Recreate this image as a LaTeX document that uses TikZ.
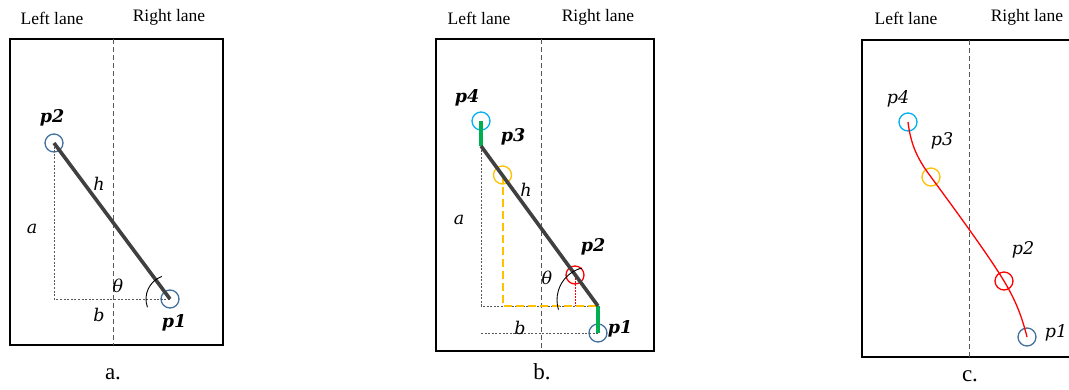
\documentclass[tikz,border=0pt]{standalone}
\usepackage{fontspec}
\setmainfont{Liberation Serif}
\newfontfamily\lblfont{DejaVu Serif}
\usetikzlibrary{calc}
\definecolor{cblue}{HTML}{41719C}
\definecolor{ccyan}{HTML}{00B0F0}
\definecolor{corange}{HTML}{FFC000}
\definecolor{cred}{HTML}{FF0000}
\definecolor{cgreen}{HTML}{00B050}
\definecolor{cdark}{HTML}{404040}
\begin{document}
\begin{tikzpicture}[x=1pt,y=-1pt,
  frame/.style={draw=black,line width=1.4pt},
  lanediv/.style={draw=black!65,line width=1pt,dash pattern=on 5pt off 3pt},
  guide/.style={draw=black!65,line width=0.9pt,dash pattern=on 2pt off 1.6pt},
  bar/.style={draw=cdark,line width=3.6pt},
  pt/.style={circle,draw,line width=1.3pt,minimum size=18pt,inner sep=0pt},
  lane/.style={font=\fontsize{17.5}{20}\selectfont,inner sep=0pt},
  plab/.style={font=\lblfont\fontsize{17.5}{20}\selectfont\bfseries\itshape,inner sep=0pt},
  plabi/.style={font=\lblfont\fontsize{17.5}{20}\selectfont\itshape,inner sep=0pt},
  mlab/.style={font=\lblfont\fontsize{17.5}{20}\selectfont\itshape,inner sep=0pt},
  captext/.style={font=\fontsize{23}{26}\selectfont,inner sep=0pt},
  greenbar/.style={draw=cgreen,line width=4pt},
  orangedash/.style={draw=corange,line width=2pt,dash pattern=on 8pt off 4pt},
  reddot/.style={draw=cred,line width=1pt,dash pattern=on 1.5pt off 1.5pt},
  angarc/.style={draw=black,line width=0.9pt}]
\useasboundingbox (0,0) rectangle (1069,389);
\fill[white] (0,0) rectangle (1069,389);

% ================= Panel a =================
\node[lane] (aL) at (52,18) {Left lane};
\node[lane] (aR) at (169,17) {Right lane};
\draw[frame] (10,39) rectangle (223,345);
\coordinate (adt) at (113,39);
\coordinate (adb) at (113,345);
\draw[lanediv] (adt) -- (adb);
\node[pt,draw=cblue] (ap2) at (54,143) {};
\node[pt,draw=cblue] (ap1) at (170,299) {};
\coordinate (acorner) at (54,299);
\draw[guide] (ap2.center) -- (acorner) -- (ap1.center);
\draw[bar] (ap2.center) -- (ap1.center);
\draw[angarc] ($(ap1.center)+(250:24)$) arc[start angle=250,end angle=160,radius=24];
\node[plab] (ap2l) at (52,118) {p2};
\node[plab] (ap1l) at (174,323) {p1};
\node[mlab] (ah) at (99,184) {h};
\node[mlab] (aa) at (32,229) {a};
\node[mlab] (ath) at (118,286) {θ};
\node[mlab] (ab) at (99,315) {b};
\node[captext] (acap) at (113,374) {a.};

% ================= Panel b =================
\node[lane] (bL) at (479,18) {Left lane};
\node[lane] (bR) at (598,17) {Right lane};
\draw[frame] (436,39) rectangle (654,351);
\coordinate (bdt) at (541,39);
\coordinate (bdb) at (541,351);
\draw[lanediv] (bdt) -- (bdb);
\node[pt,draw=ccyan] (bp4) at (481,121) {};
\node[pt,draw=cblue] (bp1) at (598,333) {};
\coordinate (btop) at (481,146);
\coordinate (bbot) at (598,306);
\coordinate (bcorner) at (481,306);
\coordinate (bbl) at (481,333);
\node[pt,draw=corange] (bp3) at (502.5,175) {};
\node[pt,draw=cred] (bp2) at (575,275) {};
\coordinate (bp3f) at (502.5,306);
\coordinate (bp2f) at (575,306);
\draw[guide] (btop) -- (bcorner) -- (bbot);
\draw[guide] (bbl) -- (bp1.center);
\draw[orangedash] (bp3.center) -- (bp3f) -- (bbot);
\draw[reddot] (bp2.center) -- (bp2f);
\draw[greenbar] (bp4.center) -- (btop);
\draw[greenbar] (bbot) -- (bp1.center);
\draw[bar] (btop) -- (bbot);
\coordinate (barc) at (590,300);
\draw[angarc] ($(barc)+(256:33)$) arc[start angle=256,end angle=163,radius=33];
\node[plab] (bp4l) at (467,98) {p4};
\node[plab] (bp3l) at (513,137) {p3};
\node[plab] (bp2l) at (593,247) {p2};
\node[plab] (bp1l) at (620,329) {p1};
\node[mlab] (bh) at (526,190) {h};
\node[mlab] (ba) at (459,220) {a};
\node[mlab] (bth) at (547,278) {θ};
\node[mlab] (bb) at (520,328) {b};
\node[captext] (bcap) at (542,372) {b.};

% ================= Panel c =================
\node[lane] (cL) at (906,18) {Left lane};
\node[lane] (cR) at (1027,17) {Right lane};
\draw[frame] (1070,40) -- (862,40) -- (862,357) -- (1070,357);
\coordinate (cdt) at (969,40);
\coordinate (cdb) at (969,357);
\draw[lanediv] (cdt) -- (cdb);
\node[pt,draw=ccyan] (cp4) at (908,122) {};
\node[pt,draw=corange] (cp3) at (931,177) {};
\node[pt,draw=cred] (cp2) at (1004,281) {};
\node[pt,draw=cblue] (cp1) at (1027,337) {};
\draw[cred,line width=1.3pt] (cp4.center) .. controls +(3,25) and +(-12,-16) .. (cp3.center)
  .. controls +(25,34) and +(-15,-25) .. (cp2.center)
  .. controls +(12,20) and +(-5,-20) .. (cp1.center);
\node[plabi] (cp4l) at (898,99) {p4};
\node[plabi] (cp3l) at (942,141) {p3};
\node[plabi] (cp2l) at (1023,250) {p2};
\node[plabi] (cp1l) at (1056,333) {p1};
\node[captext] (ccap) at (970,376) {c.};
\end{tikzpicture}
\end{document}
